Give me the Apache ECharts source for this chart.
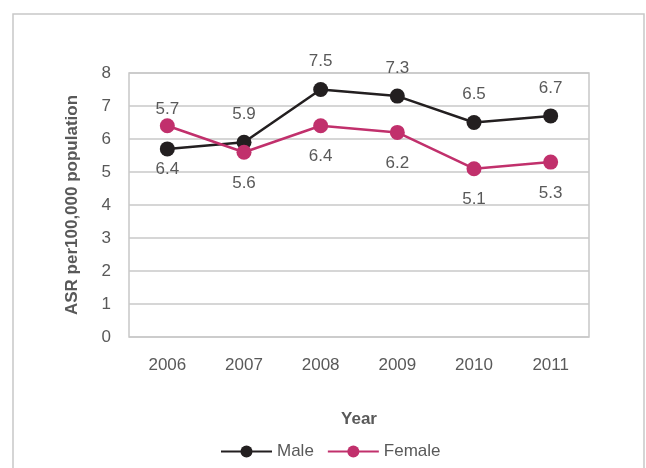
<!DOCTYPE html>
<html>
<head>
<meta charset="utf-8">
<script src="https://cdn.jsdelivr.net/npm/echarts@6/dist/echarts.min.js"></script>
<style>html,body{margin:0;padding:0;background:#fff}#c{width:646px;height:468px}</style>
</head>
<body>
<div id="c"></div>
<script>
var years = ['2006', '2007', '2008', '2009', '2010', '2011'];
var maleValues = [5.7, 5.9, 7.5, 7.3, 6.5, 6.7];
var femaleValues = [6.4, 5.6, 6.4, 6.2, 5.1, 5.3];
var yTicks = [0, 1, 2, 3, 4, 5, 6, 7, 8];

var FONT = "'Liberation Sans Narrow', 'Arial Narrow', 'Liberation Sans', sans-serif";
var TXT = '#595959';
var MALE = '#231f20';
var FEMALE = '#c1306c';
var FS = 17;

var chart = echarts.init(document.getElementById('c'), null, {renderer: 'canvas'});

function withOffsets(values, offsets) {
  return values.map(function (v, i) {
    return offsets[i] ? {value: v, label: {offset: offsets[i]}} : v;
  });
}

chart.setOption({
  animation: false,
  textStyle: {fontFamily: FONT},
  graphic: [{
    type: 'rect',
    shape: {x: 13, y: 14, width: 631, height: 470},
    style: {fill: 'none', stroke: '#c8c8c8', lineWidth: 1.5},
    silent: true
  }],
  grid: {
    left: 129, right: 57, top: 73, bottom: 131,
    show: true, borderColor: '#c8c8c8', borderWidth: 1.5,
    containLabel: false
  },
  legend: {
    top: 443,
    left: 220,
    padding: 0,
    itemWidth: 51,
    itemHeight: 15,
    itemGap: 13,
    textStyle: {fontFamily: FONT, fontSize: FS, color: TXT},
    data: ['Male', 'Female']
  },
  xAxis: {
    type: 'category',
    data: years,
    boundaryGap: true,
    name: 'Year',
    nameLocation: 'middle',
    nameGap: 74,
    nameTextStyle: {fontFamily: FONT, fontSize: FS, fontWeight: 'bold', color: TXT},
    axisLine: {show: false},
    axisTick: {show: false},
    axisLabel: {fontFamily: FONT, fontSize: FS, color: TXT, margin: 20}
  },
  yAxis: {
    type: 'value',
    min: yTicks[0],
    max: yTicks[yTicks.length - 1],
    interval: 1,
    name: 'ASR per100,000 population',
    nameLocation: 'middle',
    nameGap: 48,
    nameTextStyle: {fontFamily: FONT, fontSize: FS, fontWeight: 'bold', color: TXT},
    axisLine: {show: false},
    axisTick: {show: false},
    splitLine: {lineStyle: {color: '#c8c8c8', width: 1.5}},
    axisLabel: {fontFamily: FONT, fontSize: FS, color: TXT, margin: 18}
  },
  series: [{
    name: 'Male',
    type: 'line',
    data: withOffsets(maleValues, [[0, -12]]),
    symbol: 'circle',
    symbolSize: 15,
    itemStyle: {color: MALE},
    lineStyle: {color: MALE, width: 2.5},
    label: {show: true, position: 'top', distance: 12, fontFamily: FONT, fontSize: FS, color: TXT}
  }, {
    name: 'Female',
    type: 'line',
    data: withOffsets(femaleValues, [[0, 13]]),
    symbol: 'circle',
    symbolSize: 15,
    itemStyle: {color: FEMALE},
    lineStyle: {color: FEMALE, width: 2.5},
    label: {show: true, position: 'bottom', distance: 15, fontFamily: FONT, fontSize: FS, color: TXT}
  }]
});
</script>
</body>
</html>
